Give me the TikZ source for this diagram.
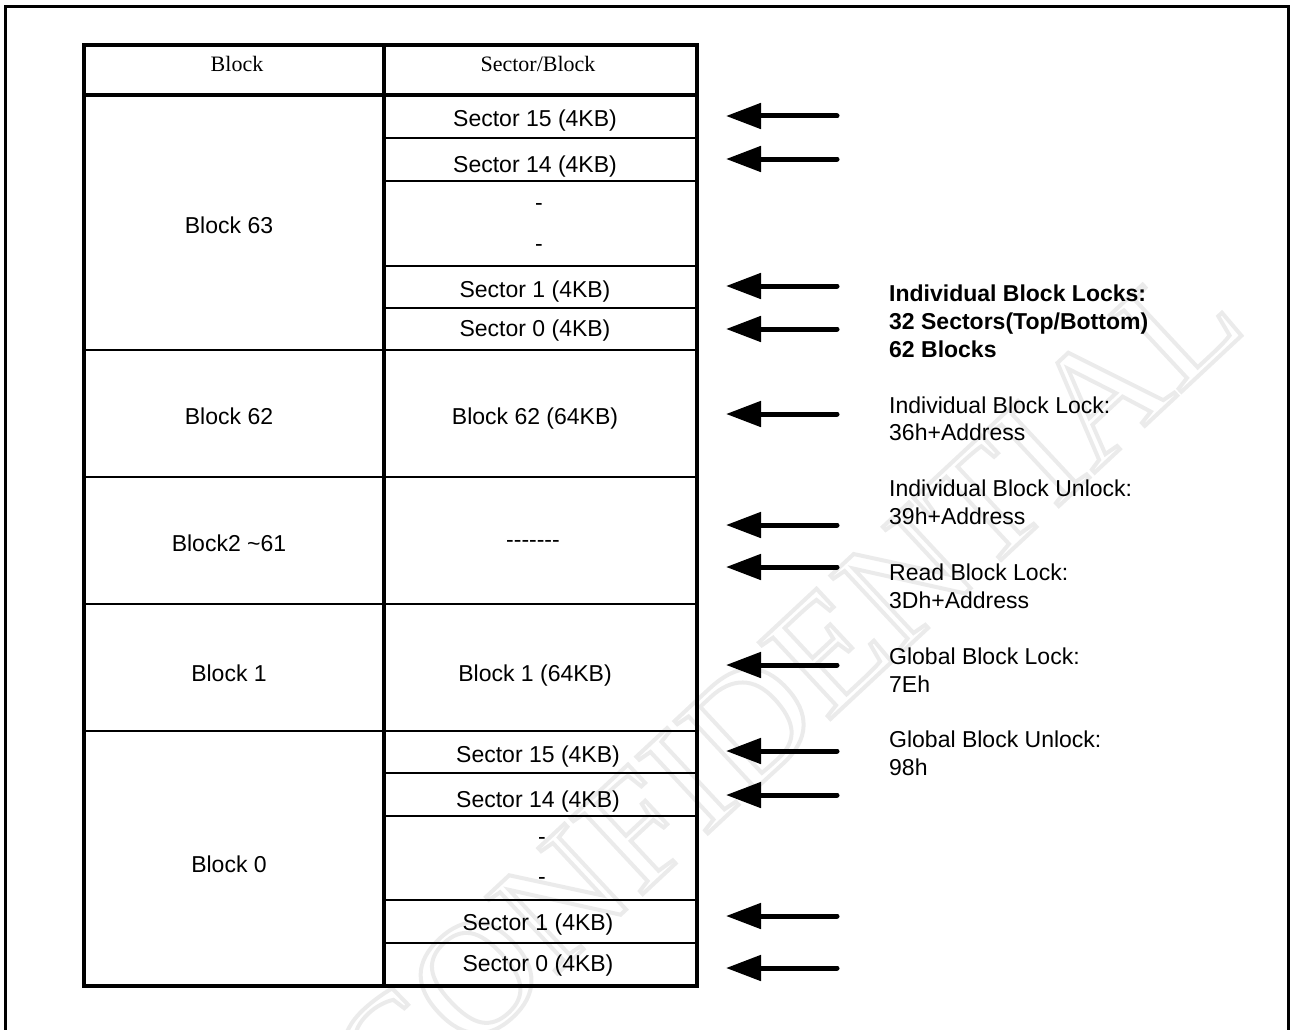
\documentclass[tikz,border=0pt]{standalone}
\usepackage{fontspec}
\setmainfont{Liberation Sans}
\newfontfamily\seriffont{Liberation Serif}
\usetikzlibrary{arrows.meta}
\tikzset{
  frameline/.style={line width=3pt},
  outerline/.style={line width=4.5pt},
  midline/.style={line width=3.5pt},
  thinline/.style={line width=2pt},
  lockarrow/.style={line width=5pt, line cap=round, -{Triangle[length=35pt,width=25pt]}},
  celltext/.style={anchor=base, inner sep=0pt, font=\fontsize{23}{27.6}\selectfont},
  headtext/.style={anchor=base, inner sep=0pt, font=\seriffont\fontsize{22}{26}\selectfont},
  sidetext/.style={anchor=base west, inner sep=0pt, font=\fontsize{23}{27.6}\selectfont},
  sidebold/.style={sidetext, font=\bfseries\fontsize{23}{27.6}\selectfont},
  watermark/.style={rotate=43, inner sep=0pt, text=gray!16, font=\seriffont\fontsize{160}{160}\selectfont}
}
\begin{document}
\begin{tikzpicture}[x=1pt,y=-1pt]
\useasboundingbox (0,0) rectangle (1290,1030);
% watermark (outlined letters)
\node[watermark] (wm) at (785,690)
  {\special{pdf:literal direct 4 w}\special{pdf:literal direct 1 Tr}CONFIDENTIAL\special{pdf:literal direct 0 Tr}};
% outer frame
\draw[frameline] (5.5,1040) -- (5.5,6.5) -- (1288.5,6.5) -- (1288.5,1040);
% table lines
\draw[midline] (384,45) -- (384,986);
\draw[midline] (697,45) -- (697,986);
\foreach \yy in {350,477,604,731} \draw[thinline] (84,\yy) -- (697,\yy);
\foreach \yy in {138,181,266,308,773,816,900,943} \draw[thinline] (384,\yy) -- (697,\yy);
\draw[outerline] (84,95) -- (699,95);
\draw[outerline] (699,45) -- (84,45) -- (84,986) -- (699,986);
% header
\node[headtext] (hblock) at (237,72) {Block};
\node[headtext] (hsector) at (538,72) {Sector/Block};
% left column
\node[celltext] (b63) at (229,233) {Block 63};
\node[celltext] (b62) at (229,424) {Block 62};
\node[celltext] (b2) at (229,551) {Block2 \textasciitilde61};
\node[celltext] (b1) at (229,681) {Block 1};
\node[celltext] (b0) at (229,872) {Block 0};
% right column
\node[celltext] (s15a) at (535,127) {Sector 15 (4KB)};
\node[celltext] (s14a) at (535,172) {Sector 14 (4KB)};
\node[celltext] (da1) at (539,210) {-};
\node[celltext] (da2) at (539,251) {-};
\node[celltext] (s1a) at (535,297) {Sector 1 (4KB)};
\node[celltext] (s0a) at (535,336) {Sector 0 (4KB)};
\node[celltext] (c62) at (535,424) {Block 62 (64KB)};
\node[celltext] (cdots) at (533,547) {-{}-{}-{}-{}-{}-{}-};
\node[celltext] (c1) at (535,681) {Block 1 (64KB)};
\node[celltext] (s15b) at (538,762) {Sector 15 (4KB)};
\node[celltext] (s14b) at (538,807) {Sector 14 (4KB)};
\node[celltext] (db1) at (542,844) {-};
\node[celltext] (db2) at (542,884) {-};
\node[celltext] (s1b) at (538,930) {Sector 1 (4KB)};
\node[celltext] (s0b) at (538,971) {Sector 0 (4KB)};
% arrows
\foreach \yy [count=\i] in {116,159,286,329,414,525,567,665,751,795,916,968} {
  \coordinate (tail\i) at (837,\yy);
  \coordinate (tip\i) at (726,\yy);
  \draw[lockarrow] (tail\i) -- (tip\i);
}
% side text
\node[sidebold] (l1) at (889,301.3) {Individual Block Locks:};
\node[sidebold] (l2) at (889,329.2) {32 Sectors(Top/Bottom)};
\node[sidebold] (l3) at (889,357.1) {62 Blocks};
\node[sidetext] (l4) at (889,413.0) {Individual Block Lock:};
\node[sidetext] (l5) at (889,440.9) {36h+Address};
\node[sidetext] (l6) at (889,496.7) {Individual Block Unlock:};
\node[sidetext] (l7) at (889,524.6) {39h+Address};
\node[sidetext] (l8) at (889,580.4) {Read Block Lock:};
\node[sidetext] (l9) at (889,608.3) {3Dh+Address};
\node[sidetext] (l10) at (889,664.1) {Global Block Lock:};
\node[sidetext] (l11) at (889,692.0) {7Eh};
\node[sidetext] (l12) at (889,747.8) {Global Block Unlock:};
\node[sidetext] (l13) at (889,775.7) {98h};
\end{tikzpicture}
\end{document}
